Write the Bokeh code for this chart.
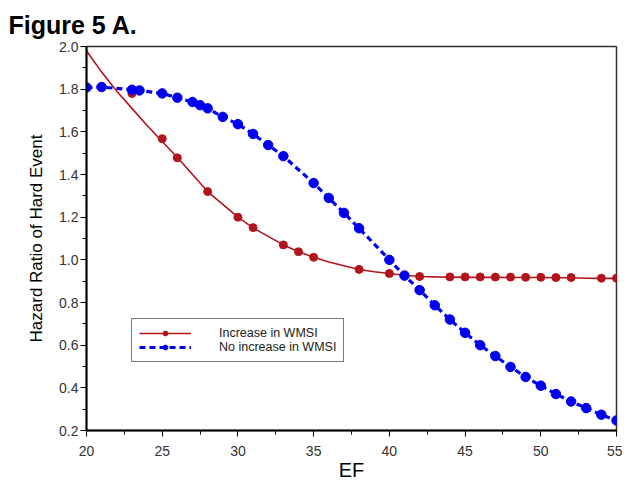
from bokeh.plotting import figure
from bokeh.models import FixedTicker, PrintfTickFormatter, Legend, LegendItem, Range1d
from bokeh.embed import file_html
from bokeh.resources import INLINE

# ---- data ----
x_ticks = [20, 25, 30, 35, 40, 45, 50, 55]
y_ticks = [0.2, 0.4, 0.6, 0.8, 1.0, 1.2, 1.4, 1.6, 1.8, 2.0]

# "Increase in WMSI": observed points and fitted curve
inc_x = [23, 25, 26, 28, 30, 31, 33, 34, 35, 38, 40, 41, 42, 44, 45, 46, 47, 48, 49, 50, 51, 52, 54, 55]
inc_y = [1.78, 1.568, 1.478, 1.32, 1.20, 1.151, 1.07, 1.038, 1.012, 0.955, 0.936, 0.928, 0.922,
         0.92, 0.92, 0.92, 0.919, 0.919, 0.918, 0.918, 0.917, 0.917, 0.914, 0.914]
fit_x = list(range(20, 56))
fit_y = [1.98, 1.88, 1.79, 1.71, 1.63, 1.555, 1.48, 1.40, 1.32, 1.26, 1.20, 1.15, 1.11, 1.07,
         1.038, 1.012, 0.99, 0.972, 0.955, 0.944, 0.936, 0.928, 0.922, 0.92, 0.919, 0.918,
         0.918, 0.918, 0.917, 0.917, 0.917, 0.916, 0.916, 0.914, 0.913, 0.913]

# "No increase in WMSI"
noinc_x = [20, 21, 23, 23.5, 25, 26, 27, 27.5, 28, 29, 30, 31, 32, 33, 35, 36, 37, 38, 40, 41,
           42, 43, 44, 45, 46, 47, 48, 49, 50, 51, 52, 53, 54, 55]
noinc_y = [1.808, 1.81, 1.797, 1.794, 1.78, 1.76, 1.74, 1.725, 1.71, 1.67, 1.636, 1.59, 1.538,
           1.486, 1.36, 1.29, 1.22, 1.148, 1.0, 0.926, 0.858, 0.787, 0.72, 0.658, 0.60, 0.549,
           0.498, 0.451, 0.41, 0.371, 0.336, 0.305, 0.274, 0.247]

RED = "#B3141C"
BLUE = "#0000F0"
FONT = "Liberation Sans"

p = figure(width=622, height=483, output_backend="svg", toolbar_location=None,
           x_range=Range1d(20, 55), y_range=Range1d(0.2, 2.0),
           min_border_left=86, min_border_right=6, min_border_bottom=53, min_border_top=0)

p.title.text = "Figure 5 A."
p.title.text_font = FONT
p.title.text_font_style = "bold"
p.title.text_font_size = "25px"
p.title.text_color = "black"
p.title.align = "left"
p.title.offset = -78
p.title.standoff = 16

p.grid.visible = False
p.outline_line_color = "#333333"
p.outline_line_width = 1.5
p.background_fill_color = "white"
p.border_fill_color = "white"

xa = p.xaxis[0]
xa.ticker = FixedTicker(ticks=x_ticks, minor_ticks=[22.5, 27.5, 32.5, 37.5, 42.5, 47.5, 52.5])
xa.axis_label = "EF"
ya = p.yaxis[0]
ya.ticker = FixedTicker(ticks=y_ticks, minor_ticks=[0.3, 0.5, 0.7, 0.9, 1.1, 1.3, 1.5, 1.7, 1.9])
ya.formatter = PrintfTickFormatter(format="%.1f")
ya.axis_label = "Hazard Ratio of Hard Event"

for ax in (xa, ya):
    ax.axis_line_width = 2
    ax.axis_line_color = "black"
    ax.major_tick_out = 6
    ax.major_tick_in = 0
    ax.minor_tick_out = 4
    ax.minor_tick_in = 0
    ax.major_tick_line_color = "black"
    ax.minor_tick_line_color = "black"
    ax.major_label_text_font = FONT
    ax.major_label_text_font_size = "14px"
    ax.major_label_text_color = "#333333"
    ax.axis_label_text_font = FONT
    ax.axis_label_text_font_style = "normal"
    ax.axis_label_text_color = "black"

ya.major_label_standoff = 2
ya.axis_label_text_font_size = "17px"
ya.axis_label_standoff = 10
xa.major_label_standoff = 9
xa.axis_label_text_font_size = "20px"
xa.axis_label_standoff = 0

# fitted red curve and points
r_line = p.line(fit_x, fit_y, line_color=RED, line_width=1.6)
r_pts = p.scatter(inc_x, inc_y, size=8, fill_color=RED, line_color=RED)

# blue dashed curve and points
b_line = p.line(noinc_x, noinc_y, line_color=BLUE, line_width=3.2, line_dash="6 4")
b_pts = p.scatter(noinc_x, noinc_y, size=9.5, fill_color=BLUE, line_color=BLUE)

legend = Legend(items=[LegendItem(label="Increase in WMSI", renderers=[r_line, r_pts]),
                       LegendItem(label="No increase in WMSI", renderers=[b_line, b_pts])],
                location=(45, 68), orientation="vertical")
legend.padding = 7
legend.spacing = 0
legend.margin = 0
legend.glyph_width = 52
legend.glyph_height = 12
legend.label_height = 12
legend.label_standoff = 28
legend.label_text_font = FONT
legend.label_text_font_size = "12.5px"
legend.label_text_color = "#222222"
legend.border_line_color = "black"
legend.border_line_width = 1
legend.background_fill_alpha = 1.0
p.add_layout(legend, "center")

open("out.html", "w").write(file_html(p, INLINE))
